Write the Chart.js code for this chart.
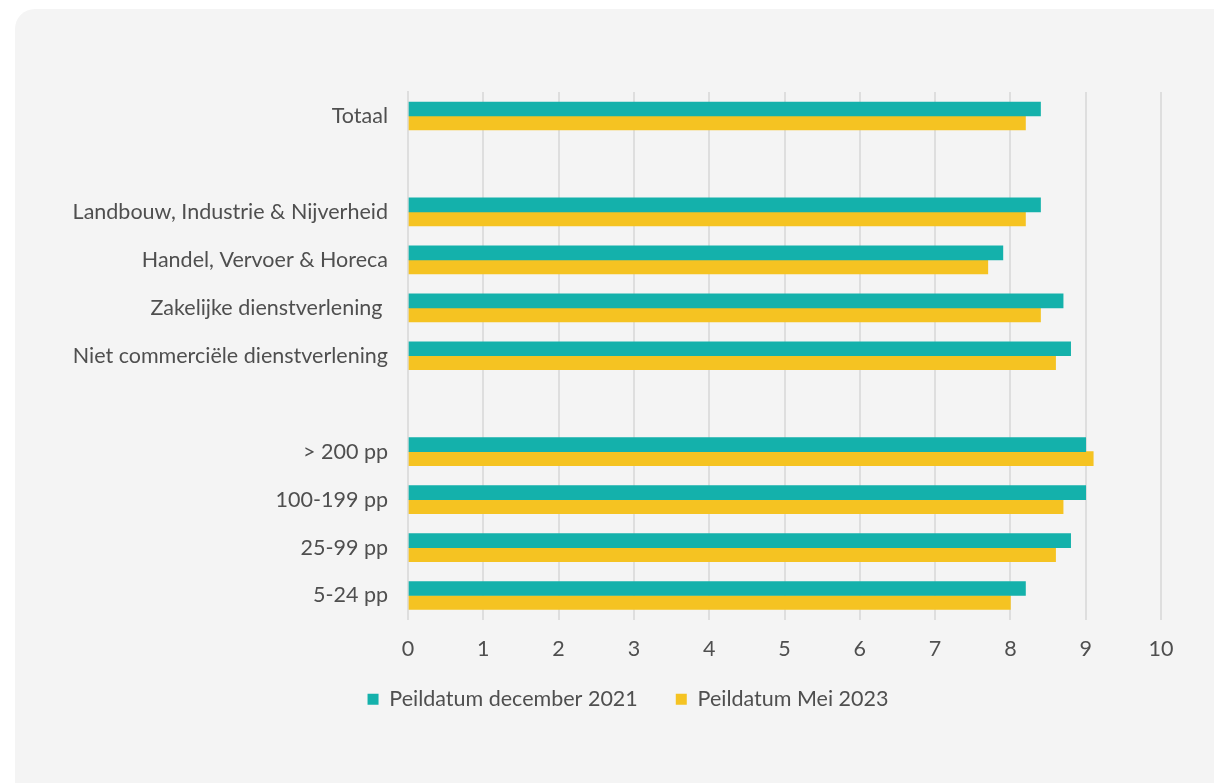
<!DOCTYPE html>
<html>
<head>
<meta charset="utf-8">
<script src="https://cdn.jsdelivr.net/npm/chart.js@4.4.1/dist/chart.umd.min.js"></script>
<style>
  html, body { margin: 0; padding: 0; background: #ffffff; overflow: hidden; width: 1214px; height: 783px; }
  .card {
    position: absolute; left: 15px; top: 9px; width: 1230px; height: 800px;
    background: #f4f4f4; border-radius: 20px; overflow: hidden;
  }
  .card canvas { position: absolute; left: 0; top: 0; }
</style>
</head>
<body>
<div class="card">
  <canvas id="chart" width="1230" height="774"></canvas>
</div>
<script>
// Categories (empty strings leave a gap between groups)
const categories = [
  'Totaal',
  '',
  'Landbouw, Industrie & Nijverheid',
  'Handel, Vervoer & Horeca',
  'Zakelijke dienstverlening ',
  'Niet commerciële dienstverlening',
  '',
  '> 200 pp',
  '100-199 pp',
  '25-99 pp',
  '5-24 pp'
];
const seriesNames = ['Peildatum december 2021', 'Peildatum Mei 2023'];
const dec2021 = [8.4, null, 8.4, 7.9, 8.7, 8.8, null, 9.0, 9.0, 8.8, 8.2];
const mei2023 = [8.2, null, 8.2, 7.7, 8.4, 8.6, null, 9.1, 8.7, 8.6, 8.0];
const xTicks = [0, 1, 2, 3, 4, 5, 6, 7, 8, 9, 10];

const TEXT = '#4f4f4f';
const FONT = 'Lato, "Open Sans", sans-serif';
const SIZE = 21.5;

// Centre the legend on the whole card and pull it closer to the axis labels.
const legendPlacement = {
  id: 'legendPlacement',
  afterLayout(chart) {
    const lg = chart.legend;
    if (!lg) return;
    const dx = (chart.width - (lg.left + lg.right)) / 2 - 2;
    const dy = -19;
    lg.left += dx; lg.right += dx;
    lg.top += dy; lg.bottom += dy;
  }
};

new Chart(document.getElementById('chart'), {
  type: 'bar',
  data: {
    labels: categories,
    datasets: [
      { label: seriesNames[0], data: dec2021, backgroundColor: '#14b1ab', barThickness: 14 },
      { label: seriesNames[1], data: mei2023, backgroundColor: '#f5c322', barThickness: 14 }
    ]
  },
  plugins: [legendPlacement],
  options: {
    indexAxis: 'y',
    responsive: false,
    animation: false,
    layout: { padding: { top: 83, right: 84, left: 0, bottom: 44 } },
    plugins: {
      tooltip: { enabled: false },
      legend: {
        position: 'bottom',
        labels: {
          color: TEXT,
          font: { family: FONT, size: SIZE },
          boxWidth: 11,
          boxHeight: 11,
          padding: 38
        }
      }
    },
    scales: {
      x: {
        min: 0,
        max: 10,
        afterBuildTicks: (scale) => { scale.ticks = xTicks.map(v => ({ value: v })); },
        afterFit: (scale) => { scale.height = 50; },
        grid: { color: '#dedede', lineWidth: 2, drawTicks: false },
        border: { display: false },
        ticks: { color: TEXT, font: { family: FONT, size: SIZE }, padding: 17 }
      },
      y: {
        afterFit: (scale) => { scale.width = 393; },
        grid: { display: false, drawTicks: false },
        border: { display: true, color: '#dedede', width: 2 },
        ticks: { color: TEXT, font: { family: FONT, size: SIZE }, padding: 20, autoSkip: false }
      }
    }
  }
});
</script>
</body>
</html>
